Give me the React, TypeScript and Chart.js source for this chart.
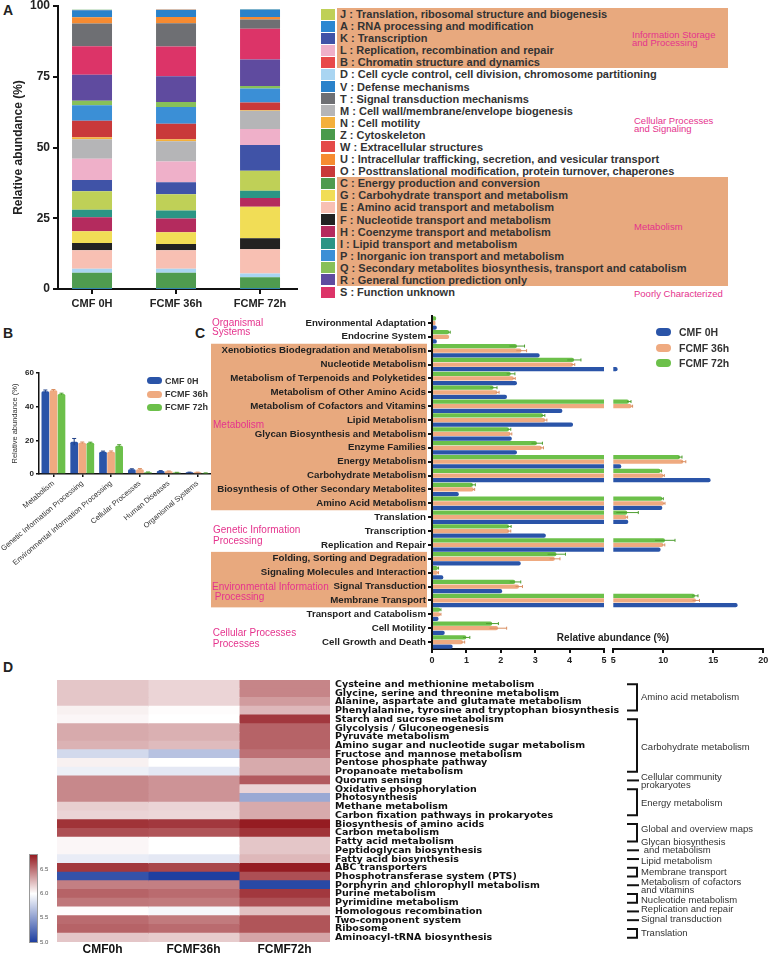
import React, { useEffect, useRef } from "react";
import { Chart, registerables } from "chart.js";

Chart.register(...registerables);

const SANS = "'Liberation Sans', Arial, Helvetica, sans-serif";
const WIDE = "'DejaVu Sans', Verdana, sans-serif";
const INK = "#222222";
const PINK = "#E5338D";
const BOX = "#E8A97E";
const BLUE = "#2A54A8";
const ORANGE = "#EFAA80";
const GREEN = "#6CC04A";

Chart.defaults.font.family = SANS;

// ---------------- Panel A: COG composition ----------------
const sampleNamesA = ["CMF 0H", "FCMF 36h", "FCMF 72h"];
const cogCodes = ["A", "B", "C", "D", "E", "F", "G", "H", "I", "J", "K", "L", "M", "N", "O", "P", "Q", "R", "S", "T", "U", "V", "W", "Z"];
const cogNames = [
  "RNA processing and modification",
  "Chromatin structure and dynamics",
  "Energy production and conversion",
  "Cell cycle control, cell division, chromosome partitioning",
  "Amino acid transport and metabolism",
  "Nucleotide transport and metabolism",
  "Carbohydrate transport and metabolism",
  "Coenzyme transport and metabolism",
  "Lipid transport and metabolism",
  "Translation, ribosomal structure and biogenesis",
  "Transcription",
  "Replication, recombination and repair",
  "Cell wall/membrane/envelope biogenesis",
  "Cell motility",
  "Posttranslational modification, protein turnover, chaperones",
  "Inorganic ion transport and metabolism",
  "Secondary metabolites biosynthesis, transport and catabolism",
  "General function prediction only",
  "Function unknown",
  "Signal transduction mechanisms",
  "Intracellular trafficking, secretion, and vesicular transport",
  "Defense mechanisms",
  "Extracellular structures",
  "Cytoskeleton",
];
const cogColors = ["#2B87D1", "#E8494A", "#4F9B4F", "#A9D5F2", "#F8C0B3", "#222222", "#F1DD56", "#B42B5E", "#2B9585", "#BFD057", "#4053A7", "#EFB0C9", "#B5B5B7", "#F4B03B", "#C9393A", "#3B8FD6", "#88C059", "#5F4B9F", "#DC3468", "#6E6F73", "#F68B31", "#2A82CA", "#E44A49", "#4A9A4B"];
const cogCMF0H = [0.1, 0.02, 5.6, 1.4, 6.6, 2.5, 4.2, 4.9, 2.7, 6.5, 4.0, 7.5, 6.9, 0.7, 5.8, 5.5, 1.6, 9.2, 10.1, 8.0, 2.2, 2.5, 0.05, 0.1];
const cogFCMF36h = [0.1, 0.02, 5.6, 1.4, 6.6, 2.2, 4.1, 4.9, 2.8, 5.8, 4.2, 7.3, 7.2, 0.7, 5.5, 5.9, 1.8, 9.1, 10.5, 8.2, 2.2, 2.5, 0.05, 0.1];
const cogFCMF72h = [0.1, 0.02, 4.0, 1.4, 8.5, 3.9, 11.1, 3.1, 2.6, 7.1, 9.1, 5.6, 6.5, 0.2, 2.7, 4.9, 0.9, 9.4, 10.8, 3.3, 0.9, 2.6, 0.05, 0.1];
const legendOrderA = ["J", "A", "K", "L", "B", "D", "V", "T", "M", "N", "Z", "W", "U", "O", "C", "G", "E", "F", "H", "I", "P", "Q", "R", "S"];

// ---------------- Panel B: KEGG level 1 ----------------
const sampleNames = ["CMF 0H", "FCMF 36h", "FCMF 72h"];
const sampleColors = [BLUE, ORANGE, GREEN];
const sampleErrColors = ["#1E3F86", "#D98E62", "#4E9E30"];
const keggLevel1 = ["Metabolism", "Genetic Information Processing", "Environmental Information Processing", "Cellular Processes", "Human Diseases", "Organismal Systems"];
const l1CMF0H = [49.1, 19.1, 13.2, 2.8, 1.8, 1.0];
const l1FCMF36h = [49.7, 18.5, 13.2, 2.8, 1.6, 1.0];
const l1FCMF72h = [47.5, 18.5, 16.8, 1.0, 0.9, 0.6];
const l1ErrCMF0H = [0.8, 2.0, 0.4, 0.3, 0.2, 0.1];
const l1ErrFCMF36h = [0.5, 0.5, 0.5, 0.4, 0.2, 0.1];
const l1ErrFCMF72h = [0.5, 0.4, 0.6, 0.2, 0.1, 0.05];

// ---------------- Panel C: KEGG level 2 ----------------
const keggLevel2 = [
  "Environmental Adaptation", "Endocrine System", "Xenobiotics Biodegradation and Metabolism", "Nucleotide Metabolism",
  "Metabolism of Terpenoids and Polyketides", "Metabolism of Other Amino Acids", "Metabolism of Cofactors and Vitamins",
  "Lipid Metabolism", "Glycan Biosynthesis and Metabolism", "Enzyme Families", "Energy Metabolism", "Carbohydrate Metabolism",
  "Biosynthesis of Other Secondary Metabolites", "Amino Acid Metabolism", "Translation", "Transcription", "Replication and Repair",
  "Folding, Sorting and Degradation", "Signaling Molecules and Interaction", "Signal Transduction", "Membrane Transport",
  "Transport and Catabolism", "Cell Motility", "Cell Growth and Death",
];
const l2CMF0H = [0.14, 0.14, 3.13, 5.43, 2.47, 2.18, 3.79, 4.1, 2.32, 2.47, 5.8, 14.73, 0.78, 9.9, 6.5, 3.31, 9.73, 2.58, 0.33, 2.04, 17.43, 0.19, 0.37, 0.6];
const l2FCMF36h = [0.1, 0.5, 2.6, 4.1, 2.38, 1.9, 6.83, 3.29, 2.28, 3.19, 12.0, 10.0, 1.21, 10.07, 6.33, 2.24, 10.0, 3.57, 0.17, 2.53, 13.27, 0.24, 1.92, 0.9];
const l2FCMF72h = [0.12, 0.5, 2.47, 4.13, 2.29, 1.79, 6.57, 3.23, 2.24, 3.05, 11.67, 9.73, 1.19, 9.9, 6.4, 2.24, 10.17, 3.62, 0.17, 2.42, 13.17, 0.24, 1.75, 1.0];
const l2ErrFCMF36h = [0, 0, 0.15, 0.05, 0.04, 0.05, 0.1, 0.05, 0.04, 0.05, 0.25, 0.1, 0.03, 0.1, 0.1, 0.05, 0.15, 0.15, 0.02, 0.1, 0.35, 0.02, 0.25, 0.05];
const l2ErrFCMF72h = [0, 0.03, 0.22, 0.2, 0.12, 0.1, 0.2, 0.05, 0.05, 0.16, 0.2, 0.1, 0.07, 0.1, 1.1, 0.06, 1.0, 0.26, 0.02, 0.16, 0.3, 0.02, 0.18, 0.1];
const cBoxRows = [[2, 13], [17, 20]];
const cLeftTicks = [0, 5, 1];
const cRightTicks = [5, 20, 5];

// ---------------- Panel D: heatmap ----------------
const heatSamples = ["CMF0h", "FCMF36h", "FCMF72h"];
const pathways = [
  "Cysteine and methionine metabolism", "Glycine, serine and threonine metabolism", "Alanine, aspartate and glutamate metabolism",
  "Phenylalanine, tyrosine and tryptophan biosynthesis", "Starch and sucrose metabolism", "Glycolysis / Gluconeogenesis",
  "Pyruvate metabolism", "Amino sugar and nucleotide sugar metabolism", "Fructose and mannose metabolism", "Pentose phosphate pathway",
  "Propanoate metabolism", "Quorum sensing", "Oxidative phosphorylation", "Photosynthesis", "Methane metabolism",
  "Carbon fixation pathways in prokaryotes", "Biosynthesis of amino acids", "Carbon metabolism", "Fatty acid metabolism",
  "Peptidoglycan biosynthesis", "Fatty acid biosynthesis", "ABC transporters", "Phosphotransferase system (PTS)",
  "Porphyrin and chlorophyll metabolism", "Purine metabolism", "Pyrimidine metabolism", "Homologous recombination",
  "Two-component system", "Ribosome", "Aminoacyl-tRNA biosynthesis",
];
const heatCMF0h = [6.2, 6.2, 6.2, 6.05, 6.03, 6.3, 6.3, 6.27, 5.8, 6.05, 5.92, 6.42, 6.42, 6.42, 6.17, 6.15, 6.72, 6.62, 6.03, 6.03, 5.9, 6.7, 5.1, 6.45, 6.55, 6.48, 6.01, 6.52, 6.55, 6.2];
const heatFCMF36h = [6.15, 6.15, 6.15, 6.01, 6.0, 6.28, 6.28, 6.24, 5.68, 6.0, 5.88, 6.38, 6.38, 6.38, 6.15, 6.14, 6.7, 6.6, 6.0, 6.0, 5.88, 6.65, 5.0, 6.45, 6.52, 6.47, 5.96, 6.47, 6.52, 6.18];
const heatFCMF72h = [6.43, 6.43, 6.35, 6.25, 6.7, 6.55, 6.55, 6.55, 6.5, 6.3, 6.3, 6.58, 6.15, 5.55, 6.3, 6.3, 6.8, 6.72, 6.2, 6.2, 6.25, 6.8, 6.62, 5.05, 6.7, 6.62, 6.22, 6.6, 6.6, 6.32];
const heatTicks = [5.0, 5.5, 6.0, 6.5];
const heatMin = 5.0, heatMid = 6.0, heatMax = 6.8;
const groupNames = ["Amino acid metabolism", "Carbohydrate metabolism", "Cellular community\nprokaryotes", "Energy metabolism", "Global and overview maps", "Glycan biosynthesis\n and metabolism", "Lipid metabolism", "Membrane transport", "Metabolism of cofactors\nand vitamins", "Nucleotide metabolism", "Replication and repair", "Signal transduction", "Translation"];
const groupStart = [0, 4, 11, 12, 16, 19, 20, 21, 23, 24, 26, 27, 28];
const groupEnd = [3, 10, 11, 15, 18, 19, 20, 22, 23, 25, 26, 27, 29];

// ---------------- helpers ----------------
const HI = [149, 28, 34];
const LO = [30, 63, 160];
function heatColor(v: number) {
  const up = v >= heatMid;
  const t = up ? Math.min(1, (v - heatMid) / (heatMax - heatMid)) : Math.min(1, (heatMid - v) / (heatMid - heatMin));
  const c = up ? HI : LO;
  const m = (k: number) => Math.round(255 + (c[k] - 255) * t);
  return `rgb(${m(0)},${m(1)},${m(2)})`;
}

const zeroPad = (s: any) => { s.paddingTop = 0; s.paddingBottom = 0; s.paddingLeft = 0; s.paddingRight = 0; };
const fixW = (w: number) => (s: any) => { s.width = w; zeroPad(s); };
const fixH = (h: number) => (s: any) => { s.height = h; zeroPad(s); };

function makeErrorBars(errors: (number[] | null)[], colors: string[]) {
  return {
    id: "errorBars",
    afterDatasetsDraw(chart: any) {
      const { ctx, chartArea: a } = chart;
      const horizontal = chart.options.indexAxis === "y";
      const vScale = horizontal ? chart.scales.x : chart.scales.y;
      ctx.save();
      ctx.beginPath();
      ctx.rect(a.left, a.top - 20, a.right - a.left, a.bottom - a.top + 20);
      ctx.clip();
      chart.data.datasets.forEach((ds: any, di: number) => {
        const e = errors[di];
        if (!e) return;
        const meta = chart.getDatasetMeta(di);
        ctx.strokeStyle = colors[di];
        ctx.lineWidth = 1;
        meta.data.forEach((el: any, i: number) => {
          const err = e[i];
          if (!err) return;
          const v = ds.data[i];
          const p1 = vScale.getPixelForValue(v - err);
          const p2 = vScale.getPixelForValue(v + err);
          ctx.beginPath();
          if (horizontal) {
            ctx.moveTo(p1, el.y); ctx.lineTo(p2, el.y);
            ctx.moveTo(p2, el.y - 1.5); ctx.lineTo(p2, el.y + 1.5);
          } else {
            ctx.moveTo(el.x, p1); ctx.lineTo(el.x, p2);
            ctx.moveTo(el.x - 2, p2); ctx.lineTo(el.x + 2, p2);
          }
          ctx.stroke();
        });
      });
      ctx.restore();
    },
  };
}

function ChartBox({ x, y, w, h, make }: { x: number; y: number; w: number; h: number; make: () => any }) {
  const ref = useRef<HTMLCanvasElement | null>(null);
  useEffect(() => {
    if (!ref.current) return;
    const chart = new Chart(ref.current, make());
    return () => chart.destroy();
  }, []);
  return <canvas ref={ref} width={w} height={h} style={{ position: "absolute", left: x, top: y, width: w, height: h }} />;
}

function Txt(p: { x: number; y: number; size: number; bold?: boolean; color?: string; lh?: number; family?: string; center?: boolean; children: any }) {
  return (
    <div
      style={{
        position: "absolute", left: p.x, top: p.y, fontSize: p.size, lineHeight: (p.lh ?? p.size) + "px",
        fontWeight: p.bold ? 700 : 400, color: p.color ?? INK, fontFamily: p.family ?? SANS, whiteSpace: "pre",
        transform: p.center ? "translateX(-50%)" : undefined,
      }}
    >
      {p.children}
    </div>
  );
}

const axisGrid = (lw: number, tl: number) => ({ drawOnChartArea: false, offset: false, tickLength: tl, color: "#111", lineWidth: lw });

// ---------------- chart configs ----------------
function makeA() {
  const series = [cogCMF0H, cogFCMF36h, cogFCMF72h];
  return {
    type: "bar",
    data: {
      datasets: cogCodes.map((code, k) => ({
        label: code,
        data: series.map((s, i) => ({ x: i, y: s[k] })),
        backgroundColor: cogColors[k],
        borderWidth: 0,
        barPercentage: 0.476,
        categoryPercentage: 1,
      })),
    },
    options: {
      responsive: false, animation: false, devicePixelRatio: 1,
      layout: { padding: { top: 6, right: 13, left: 0, bottom: 0 } },
      plugins: { legend: { display: false }, tooltip: { enabled: false } },
      scales: {
        x: {
          type: "linear", min: -0.405, max: 2.44, stacked: true, offset: false, bounds: "data",
          afterBuildTicks: (s: any) => { s.ticks = sampleNamesA.map((_, i) => ({ value: i })); },
          ticks: { callback: (v: any) => sampleNamesA[v] ?? "", font: { size: 11, weight: "bold" }, color: INK, padding: 3, maxRotation: 0, autoSkip: false },
          grid: axisGrid(2, 5), border: { color: "#111", width: 2 },
          afterFit: fixH(27),
        },
        y: {
          min: 0, max: 100, stacked: true,
          ticks: { stepSize: 25, font: { size: 12, weight: "bold" }, color: INK, padding: 3 },
          grid: axisGrid(2, 5), border: { color: "#111", width: 2 },
          title: { display: true, text: "Relative abundance (%)", font: { size: 12, weight: "bold" }, color: INK, padding: { top: 11, bottom: 0 } },
          afterFit: fixW(58),
        },
      },
    },
  };
}

function makeB() {
  const series = [l1CMF0H, l1FCMF36h, l1FCMF72h];
  return {
    type: "bar",
    data: {
      labels: keggLevel1,
      datasets: series.map((s, i) => ({
        label: sampleNames[i], data: s, backgroundColor: sampleColors[i], borderWidth: 0, borderRadius: 1.5,
        barPercentage: 0.95, categoryPercentage: 0.84,
      })),
    },
    options: {
      responsive: false, animation: false, devicePixelRatio: 1,
      layout: { padding: { top: 38, right: 3, left: 0, bottom: 0 } },
      plugins: { legend: { display: false }, tooltip: { enabled: false } },
      scales: {
        x: {
          ticks: { font: { size: 7.5 }, color: "#333", padding: 2, minRotation: 40, maxRotation: 40, autoSkip: false },
          grid: axisGrid(1.5, 3), border: { color: "#111", width: 1.5 },
          afterFit: fixH(101),
        },
        y: {
          min: 0, max: 60,
          ticks: { stepSize: 20, font: { size: 8, weight: "bold" }, color: INK, padding: 2 },
          grid: axisGrid(1.5, 3), border: { color: "#111", width: 1.5 },
          title: { display: true, text: "Relative abundance (%)", font: { size: 7.5 }, color: "#333", padding: { top: 10, bottom: 0 } },
          afterFit: fixW(39),
        },
      },
    },
    plugins: [makeErrorBars([l1ErrCMF0H, l1ErrFCMF36h, l1ErrFCMF72h], sampleErrColors)],
  };
}

function makeC(left: boolean) {
  // top-to-bottom order inside a row: FCMF 72h, FCMF 36h, CMF 0H
  const order = [2, 1, 0];
  const series = [l2CMF0H, l2FCMF36h, l2FCMF72h];
  const errs = [null, l2ErrFCMF36h, l2ErrFCMF72h];
  const t = left ? cLeftTicks : cRightTicks;
  const plugins: any[] = [makeErrorBars(order.map((i) => errs[i]), order.map((i) => sampleErrColors[i]))];
  if (left) {
    plugins.unshift({
      id: "groupBoxes",
      beforeDraw(chart: any) {
        const { ctx } = chart;
        const ys = chart.scales.y;
        const half = (ys.getPixelForValue(1) - ys.getPixelForValue(0)) / 2;
        ctx.save();
        ctx.fillStyle = BOX;
        cBoxRows.forEach(([s, e]) => {
          const top = ys.getPixelForValue(s) - half;
          const bot = ys.getPixelForValue(e) + half;
          ctx.fillRect(11, top, chart.chartArea.left - 5 - 11, bot - top);
        });
        ctx.restore();
      },
    });
  }
  return {
    type: "bar",
    data: {
      labels: keggLevel2,
      datasets: order.map((i) => ({
        label: sampleNames[i], data: series[i], backgroundColor: sampleColors[i], borderWidth: 0, borderRadius: 2,
        barPercentage: 0.94, categoryPercentage: 1, clip: 0,
      })),
    },
    options: {
      indexAxis: "y", responsive: false, animation: false, devicePixelRatio: 1,
      layout: { padding: left ? { top: 6, right: 4, left: 0, bottom: 0 } : { top: 6, right: 6.7, left: 5.3, bottom: 0 } },
      plugins: { legend: { display: false }, tooltip: { enabled: false } },
      scales: {
        x: {
          min: t[0], max: t[1],
          ticks: { stepSize: t[2], font: { size: 9, weight: "bold" }, color: INK, padding: 2, maxRotation: 0 },
          grid: axisGrid(2, 4), border: { color: "#111", width: 2 },
          afterFit: fixH(26),
        },
        y: left
          ? {
              ticks: { font: { size: 9.7, weight: "bold" }, color: INK, padding: 2, autoSkip: false },
              grid: axisGrid(2, 4), border: { color: "#111", width: 2 },
              afterFit: fixW(232),
            }
          : { display: false },
      },
    },
    plugins,
  };
}

function makeD() {
  const vals = [heatCMF0h, heatFCMF36h, heatFCMF72h];
  const labelShift = [0, 1.5, 1, 1, -3, -4, 2, 0, 1, 2, -2, -1, 0];
  return {
    type: "bar",
    data: {
      labels: pathways,
      datasets: heatSamples.map((name, c) => ({
        label: name,
        data: pathways.map(() => 1),
        backgroundColor: vals[c].map(heatColor),
        borderWidth: 0, barPercentage: 1, categoryPercentage: 1, inflateAmount: 0.5,
      })),
    },
    options: {
      indexAxis: "y", responsive: false, animation: false, devicePixelRatio: 1,
      layout: { padding: { top: 4, right: 0, left: 57, bottom: 0 } },
      plugins: { legend: { display: false }, tooltip: { enabled: false } },
      scales: {
        x: {
          type: "linear", min: 0, max: heatSamples.length, stacked: true,
          afterBuildTicks: (s: any) => { s.ticks = heatSamples.map((_, i) => ({ value: i + 0.5 })); },
          ticks: { callback: (v: any) => heatSamples[Math.floor(v)] ?? "", font: { size: 12, weight: "bold" }, color: "#111", padding: 0, maxRotation: 0, autoSkip: false },
          grid: { display: false, drawTicks: false }, border: { display: false },
          afterFit: fixH(11),
        },
        y: {
          position: "right", stacked: true,
          ticks: { font: { family: WIDE, size: 9.5, weight: "bold" }, color: "#111", padding: 5, autoSkip: false },
          grid: { display: false, drawTicks: false }, border: { display: false },
          afterFit: fixW(440),
        },
      },
    },
    plugins: [
      {
        id: "brackets",
        afterDraw(chart: any) {
          const { ctx } = chart;
          const ys = chart.scales.y;
          ctx.save();
          ctx.strokeStyle = "#111";
          ctx.lineWidth = 2;
          ctx.fillStyle = "#333";
          ctx.font = `9.5px ${SANS}`;
          ctx.textBaseline = "middle";
          groupNames.forEach((name, g) => {
            const y1 = ys.getPixelForValue(groupStart[g]);
            const y2 = ys.getPixelForValue(groupEnd[g]);
            ctx.beginPath();
            if (groupStart[g] === groupEnd[g]) {
              ctx.moveTo(627, y1); ctx.lineTo(639, y1);
            } else {
              ctx.moveTo(627, y1); ctx.lineTo(637, y1); ctx.lineTo(637, y2); ctx.lineTo(627, y2);
            }
            ctx.stroke();
            const lines = name.split("\n");
            const mid = (y1 + y2) / 2 + labelShift[g];
            lines.forEach((ln, k) => ctx.fillText(ln, 641, mid + (k - (lines.length - 1) / 2) * 8.6));
          });
          ctx.restore();
        },
      },
    ],
  };
}

// ---------------- page ----------------
const rowA = (i: number) => 14 + i * 12.09;

export default function App() {
  const heatY = (v: number) => 942 - ((v - heatMin) / (heatMax - heatMin)) * 87;
  return (
    <div style={{ position: "absolute", left: 0, top: 0, width: 770, height: 953, background: "#fff", overflow: "hidden", fontFamily: SANS }}>
      {/* Panel letters */}
      <Txt x={3} y={3} size={14} bold>A</Txt>
      <Txt x={3} y={326} size={14} bold>B</Txt>
      <Txt x={195} y={326} size={14} bold>C</Txt>
      <Txt x={3} y={660} size={14} bold>D</Txt>

      {/* Panel A legend */}
      <div style={{ position: "absolute", left: 337, top: rowA(0) - 6, width: 391, height: rowA(4) - rowA(0) + 12, background: BOX }} />
      <div style={{ position: "absolute", left: 337, top: rowA(14) - 6, width: 391, height: rowA(22) - rowA(14) + 12, background: BOX }} />
      {legendOrderA.map((code, i) => {
        const k = cogCodes.indexOf(code);
        return (
          <React.Fragment key={code}>
            <div style={{ position: "absolute", left: 321, top: rowA(i) - 5.5, width: 14, height: 11, background: cogColors[k] }} />
            <Txt x={340} y={rowA(i) - 6} size={11} lh={12} bold color="#333">{`${code} : ${cogNames[k]}`}</Txt>
          </React.Fragment>
        );
      })}
      <Txt x={632} y={30.7} size={9.5} lh={8.5} color={PINK}>{"Information Storage\nand Processing"}</Txt>
      <Txt x={634} y={116.5} size={9.5} lh={8.5} color={PINK}>{"Cellular Processes\nand Signaling"}</Txt>
      <Txt x={634} y={222} size={9.5} lh={9.5} color={PINK}>Metabolism</Txt>
      <Txt x={634} y={288.5} size={9.5} lh={9.5} color={PINK}>Poorly Characterized</Txt>

      <ChartBox x={0} y={0} w={310} h={316} make={makeA} />

      {/* Panel B */}
      <ChartBox x={0} y={335} w={215} h={240} make={makeB} />
      {sampleNames.map((n, i) => (
        <React.Fragment key={n}>
          <div style={{ position: "absolute", left: 147, top: 380.7 + i * 13.3 - 3.5, width: 15, height: 7, borderRadius: 3.5, background: sampleColors[i] }} />
          <Txt x={165} y={380.7 + i * 13.3 - 5} size={9} lh={10} bold color="#333">{n}</Txt>
        </React.Fragment>
      ))}

      {/* Panel C */}
      <ChartBox x={200} y={310} w={408} h={365} make={() => makeC(true)} />
      <ChartBox x={608} y={310} w={162} h={365} make={() => makeC(false)} />
      {sampleNames.map((n, i) => (
        <React.Fragment key={"c" + n}>
          <div style={{ position: "absolute", left: 656, top: 331.7 + i * 15.8 - 4, width: 15, height: 8, borderRadius: 4, background: sampleColors[i] }} />
          <Txt x={679} y={331.7 + i * 15.8 - 6} size={10.5} lh={12} bold color="#333">{n}</Txt>
        </React.Fragment>
      ))}
      <Txt x={613} y={633} size={10} lh={10} bold center>Relative abundance (%)</Txt>
      <Txt x={212} y={319} size={10} lh={8.7} color={PINK}>{"Organismal\nSystems"}</Txt>
      <Txt x={213} y={419.5} size={10} lh={10} color={PINK}>Metabolism</Txt>
      <Txt x={213} y={523.7} size={10} lh={11.3} color={PINK}>{"Genetic Information\nProcessing"}</Txt>
      <Txt x={212} y={581.7} size={10} lh={10} color={PINK}>{"Environmental Information\n Processing"}</Txt>
      <Txt x={212.8} y={627} size={10} lh={11} color={PINK}>{"Cellular Processes\nProcesses"}</Txt>

      {/* Panel D */}
      <ChartBox x={0} y={676} w={770} h={277} make={makeD} />
      <div
        style={{
          position: "absolute", left: 30, top: heatY(heatMax), width: 7, height: heatY(heatMin) - heatY(heatMax),
          background: `linear-gradient(to top, ${heatColor(heatMin)} 0%, #ffffff ${((heatMid - heatMin) / (heatMax - heatMin)) * 100}%, ${heatColor(heatMax)} 100%)`,
          outline: "0.5px solid #999",
        }}
      />
      {heatTicks.map((v) => (
        <Txt key={v} x={40} y={heatY(v) - 3.5} size={6} lh={7} color="#555">{v.toFixed(1)}</Txt>
      ))}
    </div>
  );
}
